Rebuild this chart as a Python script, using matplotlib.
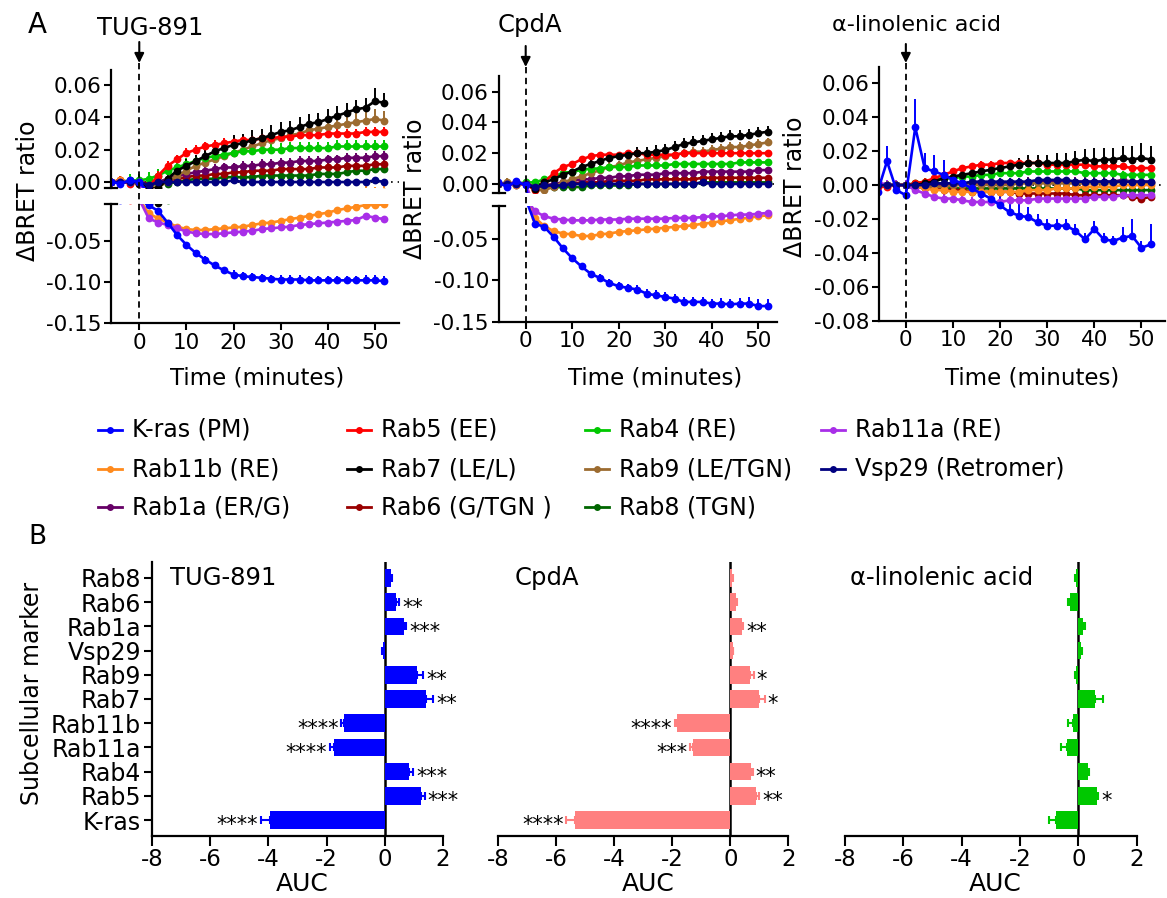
"""BRET time courses (A) and AUC summary bars (B) for three agonists."""
import numpy as np
import matplotlib
matplotlib.use("Agg")
import matplotlib.pyplot as plt
from matplotlib.lines import Line2D
from matplotlib.patches import FancyArrowPatch
from matplotlib.transforms import blended_transform_factory

W, H = 1167, 898
plt.rcParams["font.family"] = ["DejaVu Sans"]
plt.rcParams["axes.unicode_minus"] = False

# -----------------------------------------------------------------------
# Data
# -----------------------------------------------------------------------
TIME = [-6, -4, -2, 0, 2, 4, 6, 8, 10, 12, 14, 16, 18, 20, 22, 24, 26, 28,
        30, 32, 34, 36, 38, 40, 42, 44, 46, 48, 50, 52]

# legend order (row-major)
NAMES = ["K-ras", "Rab5", "Rab4", "Rab11a", "Rab11b", "Rab7", "Rab9", "Vsp29",
         "Rab1a", "Rab6", "Rab8"]
LABELS = ["K-ras (PM)", "Rab5 (EE)", "Rab4 (RE)", "Rab11a (RE)",
          "Rab11b (RE)", "Rab7 (LE/L)", "Rab9 (LE/TGN)", "Vsp29 (Retromer)",
          "Rab1a (ER/G)", "Rab6 (G/TGN )", "Rab8 (TGN)"]
COLORS = ["#0000ff", "#ff0000", "#00c800", "#a82ee8", "#ff8a1c", "#000000",
          "#9c6b30", "#000080", "#660066", "#990000", "#006600"]
DRAW_ORDER = ["Rab8", "Rab6", "Rab1a", "Rab9", "Rab4", "Rab5", "Rab7",
              "Rab11b", "Rab11a", "Vsp29", "K-ras"]

# --- TUG-891
TUG_KRAS = [0.000, -0.001, 0.001, 0.000,
            -0.007, -0.014, -0.028, -0.043, -0.055, -0.065, -0.073, -0.080, -0.086,
            -0.091, -0.093, -0.094, -0.095, -0.096, -0.097, -0.097, -0.097, -0.098,
            -0.098, -0.098, -0.098, -0.098, -0.098, -0.098, -0.098, -0.099]
TUG_KRAS_ERR = [0.002, 0.002, 0.002, 0.002,
                0.002, 0.002, 0.003, 0.003, 0.003, 0.003, 0.004, 0.004, 0.004,
                0.005, 0.005, 0.005, 0.005, 0.005, 0.005, 0.005, 0.005, 0.005,
                0.005, 0.005, 0.005, 0.005, 0.005, 0.006, 0.006, 0.006]
TUG_RAB5 = [0.000, 0.001, -0.001, 0.000,
            -0.003, 0.004, 0.010, 0.014, 0.018, 0.020, 0.022, 0.023, 0.024,
            0.025, 0.026, 0.026, 0.027, 0.027, 0.028, 0.028, 0.029, 0.029,
            0.029, 0.030, 0.030, 0.030, 0.030, 0.031, 0.031, 0.031]
TUG_RAB7 = [0.000, 0.000, 0.000, -0.001,
            -0.004, -0.004, 0.002, 0.007, 0.010, 0.013, 0.016, 0.019, 0.021,
            0.023, 0.024, 0.026, 0.027, 0.029, 0.031, 0.032, 0.034, 0.036,
            0.037, 0.039, 0.041, 0.043, 0.045, 0.046, 0.050, 0.049]
TUG_RAB7_ERR = [0.001, 0.001, 0.001, 0.001,
                0.002, 0.002, 0.003, 0.003, 0.004, 0.004, 0.005, 0.005, 0.005,
                0.006, 0.006, 0.006, 0.006, 0.006, 0.006, 0.006, 0.006, 0.006,
                0.006, 0.006, 0.006, 0.006, 0.006, 0.006, 0.008, 0.006]
TUG_RAB9 = [0.000, 0.001, 0.000, -0.001,
            -0.004, -0.003, 0.000, 0.004, 0.007, 0.010, 0.012, 0.014, 0.016,
            0.018, 0.020, 0.022, 0.024, 0.026, 0.027, 0.029, 0.030, 0.032,
            0.033, 0.034, 0.035, 0.036, 0.037, 0.038, 0.039, 0.038]
TUG_RAB9_ERR = [0.001, 0.001, 0.001, 0.001,
                0.002, 0.002, 0.002, 0.003, 0.003, 0.003, 0.003, 0.004, 0.004,
                0.004, 0.004, 0.004, 0.005, 0.005, 0.005, 0.005, 0.005, 0.005,
                0.005, 0.006, 0.006, 0.006, 0.006, 0.006, 0.006, 0.006]
TUG_RAB4 = [0.000, 0.000, 0.001, 0.001,
            0.002, 0.004, 0.007, 0.009, 0.011, 0.013, 0.015, 0.016, 0.017,
            0.018, 0.019, 0.019, 0.020, 0.020, 0.020, 0.021, 0.021, 0.021,
            0.021, 0.021, 0.022, 0.022, 0.022, 0.022, 0.022, 0.022]
TUG_RAB1A = [0.000, 0.000, 0.000, 0.000,
             -0.002, 0.000, 0.002, 0.004, 0.005, 0.006, 0.007, 0.008, 0.009,
             0.009, 0.010, 0.010, 0.011, 0.011, 0.012, 0.012, 0.013, 0.013,
             0.013, 0.014, 0.014, 0.015, 0.015, 0.015, 0.016, 0.016]
TUG_RAB6 = [0.000, 0.000, 0.000, 0.000,
            -0.001, 0.000, 0.001, 0.002, 0.003, 0.004, 0.004, 0.005, 0.005,
            0.006, 0.006, 0.007, 0.007, 0.007, 0.008, 0.008, 0.008, 0.008,
            0.009, 0.009, 0.009, 0.010, 0.010, 0.010, 0.011, 0.011]
TUG_RAB8 = [0.000, 0.000, 0.000, 0.000,
            -0.002, -0.001, -0.001, 0.000, 0.001, 0.002, 0.002, 0.002, 0.003,
            0.003, 0.003, 0.003, 0.004, 0.004, 0.004, 0.004, 0.004, 0.004,
            0.005, 0.005, 0.005, 0.006, 0.007, 0.007, 0.008, 0.008]
TUG_VSP29 = [0.000, 0.000, 0.000, 0.000,
             -0.002, 0.000, 0.000, 0.000, 0.000, 0.000, 0.000, 0.000, 0.000,
             0.001, 0.000, 0.000, 0.000, 0.000, 0.000, 0.000, 0.000, 0.000,
             0.000, 0.000, 0.000, 0.000, 0.000, 0.000, 0.001, 0.000]
TUG_RAB11B = [0.000, 0.001, 0.000, 0.000,
              -0.017, -0.023, -0.028, -0.033, -0.036, -0.037, -0.037, -0.036, -0.035,
              -0.034, -0.033, -0.031, -0.029, -0.028, -0.026, -0.024, -0.022, -0.020,
              -0.018, -0.016, -0.013, -0.011, -0.009, -0.007, -0.007, -0.006]
TUG_RAB11B_ERR = [0.001, 0.001, 0.001, 0.001,
                  0.002, 0.002, 0.002, 0.002, 0.002, 0.002, 0.002, 0.002, 0.002,
                  0.002, 0.002, 0.002, 0.002, 0.002, 0.002, 0.002, 0.002, 0.002,
                  0.002, 0.002, 0.002, 0.003, 0.003, 0.005, 0.004, 0.005]
TUG_RAB11A = [0.000, 0.000, 0.000, 0.000,
              -0.023, -0.028, -0.031, -0.035, -0.039, -0.041, -0.042, -0.042, -0.041,
              -0.040, -0.039, -0.038, -0.036, -0.035, -0.034, -0.033, -0.031, -0.030,
              -0.029, -0.028, -0.027, -0.026, -0.025, -0.020, -0.022, -0.024]

# --- CpdA
CPDA_KRAS = [0.001, -0.002, 0.002, -0.001,
             -0.031, -0.035, -0.047, -0.061, -0.073, -0.083, -0.092, -0.097, -0.103,
             -0.107, -0.109, -0.111, -0.116, -0.118, -0.120, -0.122, -0.126, -0.126,
             -0.126, -0.128, -0.128, -0.129, -0.128, -0.128, -0.131, -0.131]
CPDA_KRAS_ERR = [0.002, 0.002, 0.002, 0.002,
                 0.002, 0.003, 0.003, 0.003, 0.004, 0.004, 0.004, 0.005, 0.005,
                 0.005, 0.005, 0.006, 0.006, 0.006, 0.006, 0.006, 0.006, 0.006,
                 0.006, 0.006, 0.007, 0.007, 0.007, 0.008, 0.008, 0.009]
CPDA_RAB5 = [0.000, 0.000, 0.001, 0.000,
             -0.004, 0.001, 0.007, 0.011, 0.013, 0.016, 0.018, 0.019, 0.019,
             0.019, 0.020, 0.020, 0.019, 0.019, 0.019, 0.019, 0.020, 0.020,
             0.020, 0.020, 0.020, 0.020, 0.020, 0.020, 0.020, 0.020]
CPDA_RAB7 = [0.000, 0.000, -0.001, 0.000,
             -0.003, 0.001, 0.003, 0.006, 0.008, 0.011, 0.013, 0.015, 0.017,
             0.018, 0.019, 0.020, 0.020, 0.021, 0.022, 0.024, 0.026, 0.027,
             0.028, 0.029, 0.030, 0.031, 0.031, 0.032, 0.033, 0.034]
CPDA_RAB7_ERR = [0.001, 0.001, 0.001, 0.001,
                 0.001, 0.002, 0.002, 0.002, 0.002, 0.003, 0.003, 0.003, 0.003,
                 0.003, 0.003, 0.004, 0.004, 0.004, 0.004, 0.004, 0.004, 0.004,
                 0.004, 0.004, 0.004, 0.004, 0.004, 0.004, 0.004, 0.004]
CPDA_RAB9 = [0.000, 0.001, 0.000, 0.000,
             -0.004, -0.004, -0.002, 0.001, 0.003, 0.005, 0.007, 0.009, 0.011,
             0.012, 0.014, 0.015, 0.016, 0.017, 0.018, 0.019, 0.020, 0.021,
             0.021, 0.022, 0.023, 0.024, 0.024, 0.025, 0.026, 0.027]
CPDA_RAB4 = [0.000, 0.000, 0.000, 0.001,
             0.001, 0.003, 0.005, 0.007, 0.008, 0.009, 0.010, 0.010, 0.011,
             0.011, 0.011, 0.012, 0.012, 0.012, 0.012, 0.013, 0.013, 0.013,
             0.013, 0.013, 0.013, 0.013, 0.014, 0.014, 0.014, 0.014]
CPDA_RAB1A = [0.000, 0.000, 0.000, 0.000,
              -0.002, -0.001, 0.000, 0.001, 0.002, 0.003, 0.003, 0.004, 0.004,
              0.005, 0.005, 0.006, 0.006, 0.006, 0.007, 0.007, 0.007, 0.007,
              0.008, 0.008, 0.008, 0.008, 0.008, 0.008, 0.009, 0.009]
CPDA_RAB6 = [0.000, 0.000, 0.000, 0.000,
             -0.002, -0.001, -0.001, 0.000, 0.000, 0.001, 0.001, 0.001, 0.002,
             0.002, 0.002, 0.002, 0.003, 0.003, 0.003, 0.003, 0.003, 0.003,
             0.004, 0.004, 0.004, 0.004, 0.004, 0.004, 0.004, 0.004]
CPDA_RAB8 = [0.000, 0.000, 0.000, 0.000,
             -0.002, -0.002, -0.002, -0.002, -0.002, -0.002, -0.001, -0.001, -0.001,
             -0.001, -0.001, 0.000, 0.000, 0.000, 0.000, 0.000, 0.000, 0.000,
             0.001, 0.001, 0.001, 0.001, 0.001, 0.001, 0.001, 0.001]
CPDA_VSP29 = [0.000, 0.000, 0.000, 0.000,
              -0.002, -0.001, -0.001, -0.001, 0.000, 0.000, 0.000, 0.000, 0.000,
              0.000, 0.000, 0.000, 0.000, 0.000, 0.000, 0.000, 0.000, 0.000,
              0.001, 0.000, 0.000, 0.000, 0.000, 0.000, 0.000, 0.000]
CPDA_RAB11B = [0.000, 0.000, -0.001, 0.000,
               -0.024, -0.034, -0.040, -0.043, -0.044, -0.046, -0.046, -0.044, -0.043,
               -0.041, -0.040, -0.039, -0.038, -0.037, -0.036, -0.035, -0.034, -0.033,
               -0.031, -0.030, -0.028, -0.027, -0.025, -0.024, -0.022, -0.021]
CPDA_RAB11A = [0.000, 0.000, 0.000, 0.000,
               -0.016, -0.022, -0.025, -0.026, -0.027, -0.027, -0.027, -0.026, -0.026,
               -0.026, -0.025, -0.025, -0.025, -0.025, -0.025, -0.024, -0.024, -0.024,
               -0.023, -0.022, -0.022, -0.021, -0.020, -0.020, -0.019, -0.018]

# --- alpha-linolenic acid
ALA_KRAS = [-0.004, 0.014, -0.003, -0.006,
            0.034, 0.010, 0.008, 0.006, 0.003, 0.001, -0.002, -0.005, -0.008,
            -0.012, -0.016, -0.018, -0.019, -0.022, -0.024, -0.024, -0.024, -0.027,
            -0.032, -0.026, -0.032, -0.033, -0.031, -0.030, -0.037, -0.035]
ALA_KRAS_ERR = [0.015, 0.009, 0.004, 0.004,
                0.017, 0.009, 0.010, 0.009, 0.007, 0.005, 0.005, 0.006, 0.006,
                0.008, 0.007, 0.007, 0.006, 0.005, 0.004, 0.004, 0.004, 0.004,
                0.004, 0.005, 0.004, 0.003, 0.006, 0.010, 0.004, 0.012]
ALA_RAB7 = [0.000, 0.000, 0.000, 0.000,
            0.000, 0.001, 0.002, 0.004, 0.005, 0.006, 0.007, 0.008, 0.009,
            0.010, 0.011, 0.012, 0.013, 0.013, 0.013, 0.013, 0.013, 0.014,
            0.015, 0.014, 0.015, 0.015, 0.016, 0.015, 0.016, 0.015]
ALA_RAB7_ERR = [0.001, 0.001, 0.001, 0.001,
                0.001, 0.001, 0.002, 0.002, 0.002, 0.002, 0.003, 0.003, 0.003,
                0.004, 0.004, 0.004, 0.005, 0.005, 0.005, 0.006, 0.006, 0.006,
                0.006, 0.008, 0.007, 0.007, 0.007, 0.008, 0.009, 0.008]
ALA_RAB5 = [-0.001, -0.001, 0.000, 0.000,
            0.001, 0.002, 0.004, 0.006, 0.008, 0.010, 0.011, 0.012, 0.012,
            0.013, 0.013, 0.013, 0.013, 0.013, 0.012, 0.012, 0.012, 0.012,
            0.012, 0.011, 0.011, 0.011, 0.011, 0.010, 0.010, 0.010]
ALA_RAB4 = [0.000, 0.000, 0.000, 0.000,
            0.001, 0.002, 0.003, 0.004, 0.004, 0.005, 0.005, 0.006, 0.006,
            0.007, 0.007, 0.007, 0.008, 0.008, 0.008, 0.008, 0.008, 0.008,
            0.007, 0.007, 0.007, 0.007, 0.006, 0.006, 0.006, 0.006]
ALA_RAB9 = [0.000, 0.000, 0.000, 0.000,
            0.000, -0.001, -0.001, -0.001, 0.000, 0.000, 0.000, 0.000, 0.000,
            0.000, 0.000, 0.001, 0.001, 0.001, 0.001, 0.001, 0.001, 0.001,
            0.001, 0.001, 0.001, 0.001, 0.002, 0.002, 0.001, 0.001]
ALA_VSP29 = [0.000, 0.000, 0.000, 0.000,
             0.000, 0.000, 0.001, 0.001, 0.001, 0.001, 0.002, 0.002, 0.002,
             0.002, 0.002, 0.002, 0.002, 0.003, 0.003, 0.003, 0.003, 0.002,
             0.002, 0.002, 0.002, 0.002, 0.002, 0.002, 0.002, 0.002]
ALA_RAB1A = [0.000, 0.000, 0.000, 0.000,
             -0.001, -0.001, 0.000, 0.000, 0.000, 0.001, 0.001, 0.001, 0.001,
             0.001, 0.001, 0.001, 0.002, 0.002, 0.002, 0.002, 0.002, 0.002,
             0.002, 0.002, 0.002, 0.002, 0.003, 0.002, 0.002, 0.002]
ALA_RAB6 = [0.000, 0.000, 0.000, 0.000,
            -0.001, -0.002, -0.002, -0.003, -0.003, -0.003, -0.004, -0.004, -0.004,
            -0.004, -0.004, -0.005, -0.005, -0.005, -0.005, -0.005, -0.005, -0.006,
            -0.006, -0.006, -0.006, -0.006, -0.006, -0.007, -0.008, -0.007]
ALA_RAB8 = [0.000, 0.000, 0.000, 0.000,
            0.000, -0.001, -0.001, -0.002, -0.002, -0.002, -0.002, -0.002, -0.002,
            -0.002, -0.002, -0.002, -0.002, -0.002, -0.002, -0.002, -0.002, -0.002,
            -0.003, -0.003, -0.003, -0.003, -0.003, -0.003, -0.003, -0.003]
ALA_RAB11B = [0.000, 0.000, 0.000, 0.000,
              -0.001, -0.002, -0.003, -0.003, -0.004, -0.004, -0.004, -0.004, -0.004,
              -0.004, -0.004, -0.004, -0.003, -0.003, -0.003, -0.002, -0.002, -0.002,
              -0.001, -0.001, -0.001, -0.001, 0.000, 0.000, 0.000, 0.000]
ALA_RAB11A = [0.002, 0.000, 0.000, 0.000,
              -0.003, -0.005, -0.007, -0.008, -0.008, -0.009, -0.010, -0.010, -0.010,
              -0.010, -0.009, -0.009, -0.009, -0.008, -0.008, -0.008, -0.008, -0.008,
              -0.008, -0.007, -0.007, -0.007, -0.006, -0.006, -0.006, -0.006]

TUG = {"K-ras": TUG_KRAS, "Rab5": TUG_RAB5, "Rab4": TUG_RAB4, "Rab11a": TUG_RAB11A,
       "Rab11b": TUG_RAB11B, "Rab7": TUG_RAB7, "Rab9": TUG_RAB9, "Vsp29": TUG_VSP29,
       "Rab1a": TUG_RAB1A, "Rab6": TUG_RAB6, "Rab8": TUG_RAB8}
TUG_ERR = {"K-ras": TUG_KRAS_ERR, "Rab5": 0.003, "Rab4": 0.004, "Rab11a": 0.002,
           "Rab11b": TUG_RAB11B_ERR, "Rab7": TUG_RAB7_ERR, "Rab9": TUG_RAB9_ERR,
           "Vsp29": 0.001, "Rab1a": 0.003, "Rab6": 0.003, "Rab8": 0.002}
CPDA = {"K-ras": CPDA_KRAS, "Rab5": CPDA_RAB5, "Rab4": CPDA_RAB4, "Rab11a": CPDA_RAB11A,
        "Rab11b": CPDA_RAB11B, "Rab7": CPDA_RAB7, "Rab9": CPDA_RAB9, "Vsp29": CPDA_VSP29,
        "Rab1a": CPDA_RAB1A, "Rab6": CPDA_RAB6, "Rab8": CPDA_RAB8}
CPDA_ERR = {"K-ras": CPDA_KRAS_ERR, "Rab5": 0.002, "Rab4": 0.002, "Rab11a": 0.002,
            "Rab11b": 0.002, "Rab7": CPDA_RAB7_ERR, "Rab9": 0.003, "Vsp29": 0.001,
            "Rab1a": 0.002, "Rab6": 0.002, "Rab8": 0.002}
ALA = {"K-ras": ALA_KRAS, "Rab5": ALA_RAB5, "Rab4": ALA_RAB4, "Rab11a": ALA_RAB11A,
       "Rab11b": ALA_RAB11B, "Rab7": ALA_RAB7, "Rab9": ALA_RAB9, "Vsp29": ALA_VSP29,
       "Rab1a": ALA_RAB1A, "Rab6": ALA_RAB6, "Rab8": ALA_RAB8}
ALA_ERR = {"K-ras": ALA_KRAS_ERR, "Rab5": 0.002, "Rab4": 0.002, "Rab11a": 0.003,
           "Rab11b": 0.003, "Rab7": ALA_RAB7_ERR, "Rab9": 0.003, "Vsp29": 0.002,
           "Rab1a": 0.003, "Rab6": 0.002, "Rab8": 0.002}

# --- AUC bars (bottom to top)
MARKERS = ["K-ras", "Rab5", "Rab4", "Rab11a", "Rab11b", "Rab7", "Rab9", "Vsp29",
           "Rab1a", "Rab6", "Rab8"]
TUG_AUC = [-3.96, 1.23, 0.84, -1.75, -1.41, 1.41, 1.09, -0.05, 0.65, 0.40, 0.20]
TUG_AUC_ERR = [0.29, 0.15, 0.14, 0.15, 0.08, 0.25, 0.23, 0.04, 0.08, 0.10, 0.05]
TUG_SIG = ["****", "***", "***", "****", "****", "**", "**", "", "***", "**", ""]
CPDA_AUC = [-5.35, 0.90, 0.71, -1.27, -1.84, 0.98, 0.67, 0.08, 0.40, 0.18, 0.05]
CPDA_AUC_ERR = [0.30, 0.10, 0.06, 0.12, 0.07, 0.20, 0.13, 0.03, 0.05, 0.05, 0.04]
CPDA_SIG = ["****", "**", "**", "***", "****", "*", "*", "", "**", "", ""]
ALA_AUC = [-0.77, 0.63, 0.34, -0.40, -0.19, 0.57, -0.09, 0.10, 0.17, -0.29, -0.08]
ALA_AUC_ERR = [0.22, 0.05, 0.04, 0.20, 0.18, 0.26, 0.03, 0.03, 0.05, 0.05, 0.05]
ALA_SIG = ["", "*", "", "", "", "", "", "", "", "", ""]


# -----------------------------------------------------------------------
# Helpers
# -----------------------------------------------------------------------

def px_rect(x0, y0, x1, y1):
    return [x0 / W, 1 - y1 / H, (x1 - x0) / W, (y1 - y0) / H]


def fx(x):
    return x / W


def fy(y):
    return 1 - y / H


def style(ax, tick_size):
    for side in ("top", "right"):
        ax.spines[side].set_visible(False)
    for side in ("left", "bottom"):
        ax.spines[side].set_linewidth(1.6)
    ax.tick_params(direction="out", length=5, width=1.5, labelsize=tick_size,
                   pad=2)


def plot_traces(ax, values, errors):
    for name in DRAW_ORDER:
        i = NAMES.index(name)
        v = np.asarray(values[name], dtype=float)
        e = np.broadcast_to(np.asarray(errors[name], dtype=float), v.shape)
        ax.errorbar(TIME, v, yerr=[np.zeros_like(v), e], fmt="-o",
                    color=COLORS[i], ms=5.6, mew=0, lw=1.9, elinewidth=1.4,
                    capsize=3, capthick=1.4)


TIME_PANELS = [
    dict(title="TUG-891", tsize=17.5, values=TUG, errors=TUG_ERR,
         x0=111, x1=398.5, xlim=(-6, 55),
         parts=[(70, 188, (-0.0037, 0.0693), [0, 0.02, 0.04, 0.06]),
                (204, 323.3, (-0.15, -0.0056), [-0.15, -0.10, -0.05])],
         title_xy=(150, 28), arrow=(42, 63), ylab=(28, 191), xlab=257),
    dict(title="CpdA", tsize=17.5, values=CPDA, errors=CPDA_ERR,
         x0=498.7, x1=777, xlim=(-5.8, 54),
         parts=[(76, 193, (-0.0059, 0.0702), [0, 0.02, 0.04, 0.06]),
                (206, 321.7, (-0.15, -0.0096), [-0.15, -0.10, -0.05])],
         title_xy=(530, 25), arrow=(46, 67), ylab=(415, 189), xlab=655),
    dict(title="\u03b1-linolenic acid", tsize=16, values=ALA, errors=ALA_ERR,
         x0=879, x1=1165, xlim=(-5.7, 55),
         parts=[(67, 320.7, (-0.08, 0.0696),
                 [-0.08, -0.06, -0.04, -0.02, 0, 0.02, 0.04, 0.06])],
         title_xy=(916, 25), arrow=(44, 63), ylab=(795, 187), xlab=1032),
]

BAR_PANELS = [
    dict(title="TUG-891", auc=TUG_AUC, err=TUG_AUC_ERR, sig=TUG_SIG,
         color="#0000ff", x0=152, x1=443, title_x=170, xlab=302),
    dict(title="CpdA", auc=CPDA_AUC, err=CPDA_AUC_ERR, sig=CPDA_SIG,
         color="#ff8080", x0=498.3, x1=788.3, title_x=515, xlab=648),
    dict(title="\u03b1-linolenic acid", auc=ALA_AUC, err=ALA_AUC_ERR, sig=ALA_SIG,
         color="#00c800", x0=845, x1=1136.7, title_x=850, xlab=995),
]


def time_panel(fig, cfg):
    axes = []
    n = len(cfg["parts"])
    for k, (y0, y1, ylim, ticks) in enumerate(cfg["parts"]):
        ax = fig.add_axes(px_rect(cfg["x0"], y0, cfg["x1"], y1))
        style(ax, 15.5)
        plot_traces(ax, cfg["values"], cfg["errors"])
        if ylim[0] < 0 < ylim[1]:
            ax.axhline(0, color="black", lw=1.2, ls=(0, (1, 3)), zorder=0)
        ax.set_xlim(*cfg["xlim"])
        ax.set_ylim(*ylim)
        ax.set_yticks(ticks)
        ax.set_yticklabels([f"{t:.2f}" for t in ticks])
        if k < n - 1:
            ax.spines["bottom"].set_visible(False)
            ax.tick_params(axis="x", bottom=False, labelbottom=False)
        else:
            ax.set_xticks([0, 10, 20, 30, 40, 50])
        axes.append(ax)

    # break marks on the y axis
    if n > 1:
        for y in (cfg["parts"][0][1], cfg["parts"][1][0]):
            fig.add_artist(Line2D([fx(cfg["x0"] - 6), fx(cfg["x0"] + 6)],
                                  [fy(y), fy(y)], color="black", lw=1.6))

    # injection marker: arrow + dashed line at t = 0
    low = axes[-1]
    tr = blended_transform_factory(low.transData, fig.transFigure)
    a0, a1 = cfg["arrow"]
    bottom = cfg["parts"][-1][1]
    fig.add_artist(Line2D([0, 0], [fy(a1), fy(bottom)], transform=tr,
                          color="black", lw=1.3, ls=(0, (3.5, 2.5))))
    fig.add_artist(FancyArrowPatch((0, fy(a0)), (0, fy(a1)), transform=tr,
                                   arrowstyle="-|>", mutation_scale=14,
                                   color="black", lw=1.5,
                                   shrinkA=0, shrinkB=0))
    fig.text(fx(cfg["title_xy"][0]), fy(cfg["title_xy"][1]), cfg["title"],
             fontsize=cfg["tsize"], ha="center", va="center")
    fig.text(fx(cfg["ylab"][0]), fy(cfg["ylab"][1]), "\u0394BRET ratio",
             fontsize=17, rotation=90, ha="center", va="center")
    fig.text(fx(cfg["xlab"]), fy(378), "Time (minutes)", fontsize=16.5,
             ha="center", va="center")


def bar_panel(fig, cfg, first):
    ax = fig.add_axes(px_rect(cfg["x0"], 562, cfg["x1"], 836))
    style(ax, 16.5)
    ypos = np.arange(len(MARKERS))
    auc = np.asarray(cfg["auc"])
    err = np.asarray(cfg["err"])
    lo = np.where(auc < 0, err, 0)
    hi = np.where(auc >= 0, err, 0)
    ax.axvline(0, color="black", lw=1.8, zorder=1)
    ax.barh(ypos, auc, height=0.72, color=cfg["color"], zorder=2,
            xerr=[lo, hi], error_kw=dict(ecolor=cfg["color"], elinewidth=1.5,
                                         capsize=3, capthick=1.5, zorder=2))
    for y, a, e, s in zip(ypos, auc, err, cfg["sig"]):
        if not s:
            continue
        if a >= 0:
            ax.text(a + e + 0.1, y - 0.22, s, ha="left", va="center", fontsize=15)
        else:
            ax.text(a - e - 0.1, y - 0.22, s, ha="right", va="center", fontsize=15)
    ax.set_xlim(-8, 2)
    ax.set_ylim(-0.66, 10.66)
    ax.set_xticks([-8, -6, -4, -2, 0, 2])
    ax.set_xticklabels(["-8", "-6", "-4", "-2", "0", "2"])
    ax.tick_params(axis="x", length=7)
    if first:
        ax.set_yticks(ypos)
        ax.set_yticklabels(MARKERS, fontsize=17)
        ax.tick_params(axis="y", length=6)
    else:
        ax.spines["left"].set_visible(False)
        ax.set_yticks([])
    fig.text(fx(cfg["title_x"]), fy(578), cfg["title"], fontsize=17.5,
             ha="left", va="center")
    fig.text(fx(cfg["xlab"]), fy(884), "AUC", fontsize=18, ha="center",
             va="center")


def legend(fig):
    col_x = [110, 359, 597, 833]
    row_y = [430, 469, 507]
    for i, (lab, col) in enumerate(zip(LABELS, COLORS)):
        x = col_x[i % 4]
        y = row_y[i // 4]
        fig.add_artist(Line2D([fx(x - 12), fx(x + 12)], [fy(y), fy(y)],
                              color=col, lw=2.0))
        fig.add_artist(Line2D([fx(x)], [fy(y)], color=col, marker="o",
                              ms=5, mew=0))
        fig.text(fx(x + 22), fy(y), lab, fontsize=17, ha="left", va="center")


def main():
    fig = plt.figure(figsize=(W / 100, H / 100), dpi=100)
    for cfg in TIME_PANELS:
        time_panel(fig, cfg)
    for k, cfg in enumerate(BAR_PANELS):
        bar_panel(fig, cfg, k == 0)
    legend(fig)
    fig.text(fx(32), fy(693), "Subcellular marker", fontsize=17, rotation=90,
             ha="center", va="center")
    fig.text(fx(37), fy(25), "A", fontsize=20, ha="center", va="center")
    fig.text(fx(37), fy(537), "B", fontsize=19, ha="center", va="center")
    fig.savefig("out.png", dpi=100, facecolor="white")


if __name__ == "__main__":
    main()
